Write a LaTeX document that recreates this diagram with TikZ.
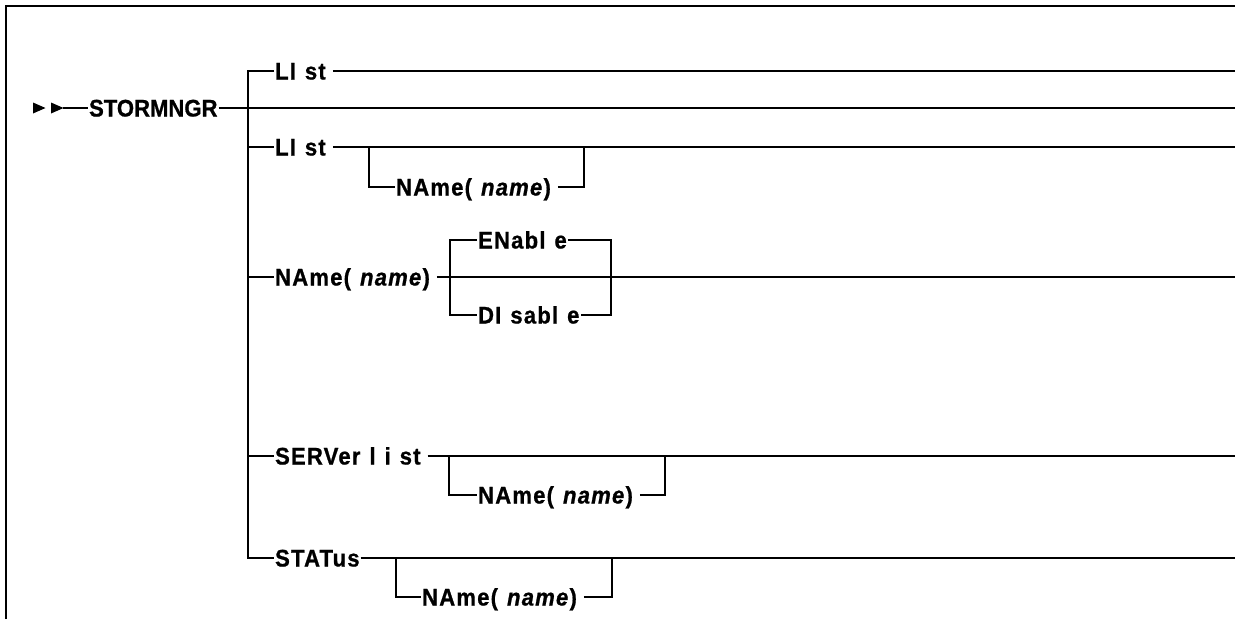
\documentclass[tikz,border=0pt]{standalone}
\usepackage{fontspec}
\setmainfont{Liberation Sans}
\newfontfamily\kwfont[LetterSpace=5,FakeStretch=0.92,FakeBold=0.8]{Liberation Sans}
\newfontfamily\cmdfont[FakeStretch=0.92,FakeBold=0.8]{Liberation Sans}
\begin{document}
\begin{tikzpicture}[x=1pt,y=-1pt,
  line width=2.2pt, line join=miter,
  kw/.style={inner sep=0pt, anchor=west, text height=17pt, text depth=0pt,
    font={\fontsize{24}{28}\kwfont\bfseries\spaceskip=9pt\relax}},
  cmd/.style={kw, font={\fontsize{24}{28}\cmdfont\bfseries}},
  gap/.style={xshift=6pt}]
\useasboundingbox (0,0) rectangle (1235,619);
% frame
\draw (6,619) -- (6,6) -- (1235,6);
% start arrows
\fill (33,102.5) -- (45.5,108) -- (33,113.5) -- cycle;
\fill (51,102.5) -- (63.5,108) -- (51,113.5) -- cycle;
\coordinate (start) at (63,108);
% nodes
\node[cmd] (cmd) at (88,108) {STORMNGR};
\node[kw] (l1) at (274,71) {LI st};
\node[kw] (l3) at (274,147) {LI st};
\node[kw] (n3) at (395,187) {NAme( \textit{name})};
\node[kw] (l4) at (274,277) {NAme( \textit{name})};
\node[kw] (en) at (477,240) {ENabl e};
\node[kw] (dis) at (477,315) {DI sabl e};
\node[kw] (l5) at (274,456) {SERVer l i st};
\node[kw] (n5) at (477,495) {NAme( \textit{name})};
\node[kw] (l6) at (274,558) {STATus};
\node[kw] (n6) at (421,597) {NAme( \textit{name})};
% coordinates
\coordinate (bt) at (248,71);
\coordinate (b3) at (248,147);
\coordinate (b4) at (248,277);
\coordinate (b5) at (248,456);
\coordinate (bb) at (248,558);
\coordinate (e1) at (1235,71);
\coordinate (em) at (1235,108);
\coordinate (e3) at (1235,147);
\coordinate (e4) at (1235,277);
\coordinate (e5) at (1235,456);
\coordinate (e6) at (1235,558);
% main line
\draw (start) -- (cmd.west);
\draw (cmd.east) -- (em);
\draw (l1.west) -- (bt) -- (bb) -- (l6.west);
\draw (b3) -- (l3.west);
\draw (b4) -- (l4.west);
\draw (b5) -- (l5.west);
% row 1
\draw ([gap]l1.east) -- (e1);
% row 3
\draw ([gap]l3.east) -- (e3);
\coordinate (o3a) at (369,147);
\coordinate (o3b) at (584,147);
\draw (o3a) |- (n3.west);
\draw ([gap]n3.east) -| (o3b);
% row 4
\draw ([gap]l4.east) -- (e4);
\coordinate (c4a) at (450,277);
\coordinate (c4b) at (611,277);
\draw (en.west) -| (c4a |- dis.west) -- (dis.west);
\draw (en.east) -| (c4b |- dis.east) -- (dis.east);
% row 5
\draw ([gap]l5.east) -- (e5);
\coordinate (o5a) at (449,456);
\coordinate (o5b) at (665,456);
\draw (o5a) |- (n5.west);
\draw ([gap]n5.east) -| (o5b);
% row 6
\draw (l6.east) -- (e6);
\coordinate (o6a) at (396,558);
\coordinate (o6b) at (612,558);
\draw (o6a) |- (n6.west);
\draw ([gap]n6.east) -| (o6b);
\end{tikzpicture}
\end{document}
